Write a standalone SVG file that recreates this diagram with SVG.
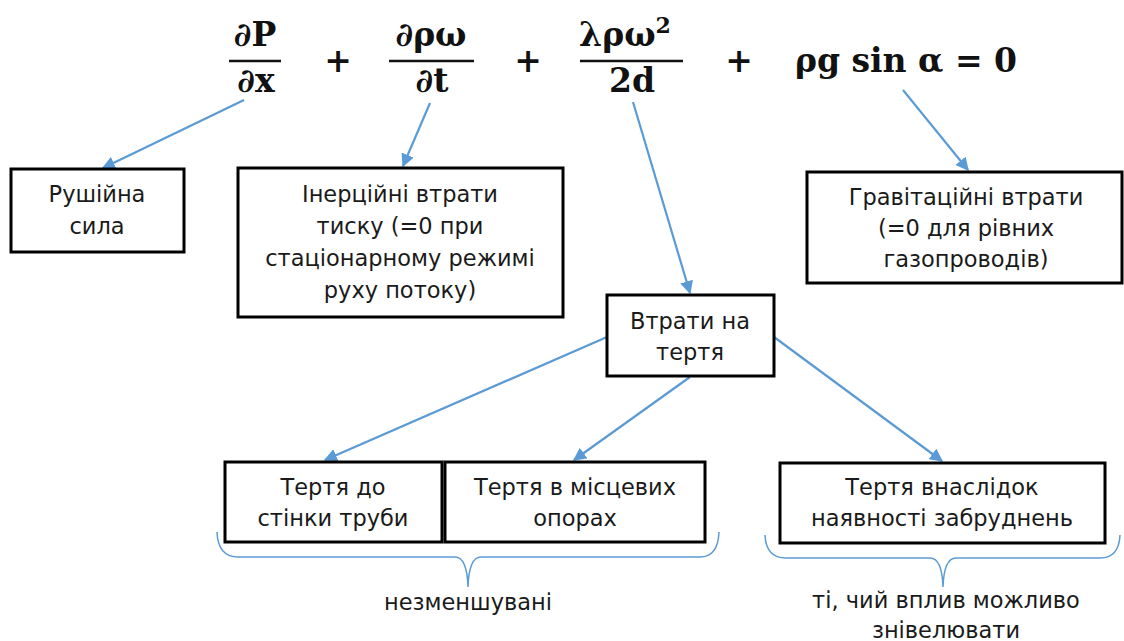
<svg xmlns="http://www.w3.org/2000/svg" width="1124" height="641" viewBox="0 0 1124 641">
<style>
.eq{font-family:"DejaVu Serif","Liberation Serif",serif;font-weight:bold;font-size:33px;fill:#111;text-anchor:middle}
.t{font-family:"DejaVu Sans","Liberation Sans",sans-serif;font-size:22.5px;fill:#1a1a1a;text-anchor:middle}
.box{fill:#fff;stroke:#000;stroke-width:3}
.c{stroke:#5B9BD5;stroke-width:2.2;fill:none}
.br{stroke:#5B9BD5;stroke-width:1.5;fill:none}
</style>
<defs>
<marker id="a" viewBox="0 0 10 10" refX="9" refY="5" markerWidth="6" markerHeight="6" orient="auto">
<path d="M0,0 L10,5 L0,10 z" fill="#5B9BD5"/>
</marker>
</defs>
<rect width="1124" height="641" fill="#fff"/>
<g id="equation">
<text class="eq" x="255" y="46">∂P</text>
<line x1="229" y1="61" x2="281" y2="61" stroke="#111" stroke-width="2.5"/>
<text class="eq" x="256" y="92">∂x</text>
<text class="eq" x="338" y="72">+</text>
<text class="eq" x="431" y="46">∂ρω</text>
<line x1="389" y1="61" x2="474" y2="61" stroke="#111" stroke-width="2.5"/>
<text class="eq" x="432" y="92">∂t</text>
<text class="eq" x="528" y="72">+</text>
<text class="eq" x="625" y="46">λρω<tspan font-size="22" dy="-13">2</tspan></text>
<line x1="580" y1="61" x2="683" y2="61" stroke="#111" stroke-width="2.5"/>
<text class="eq" x="632" y="92">2d</text>
<text class="eq" x="739" y="72">+</text>
<text class="eq" x="906" y="72">ρg sin α = 0</text>
</g>
<g id="connectors">
<line class="c" x1="244" y1="100" x2="103" y2="168" marker-end="url(#a)"/>
<line class="c" x1="430" y1="103" x2="403" y2="166" marker-end="url(#a)"/>
<line class="c" x1="633" y1="102" x2="690" y2="293" marker-end="url(#a)"/>
<line class="c" x1="903" y1="90" x2="968" y2="170" marker-end="url(#a)"/>
<line class="c" x1="607" y1="337" x2="325" y2="460" marker-end="url(#a)"/>
<line class="c" x1="690" y1="377" x2="574" y2="460" marker-end="url(#a)"/>
<line class="c" x1="774" y1="337" x2="942" y2="461" marker-end="url(#a)"/>
</g>
<g id="n1">
<rect class="box" x="11" y="169" width="173" height="83"/>
<text class="t" x="97" y="202">Рушійна</text>
<text class="t" x="97" y="234">сила</text>
</g>
<g id="n2">
<rect class="box" x="238" y="168" width="325" height="149"/>
<text class="t" x="400" y="202">Інерційні втрати</text>
<text class="t" x="400" y="234">тиску (=0 при</text>
<text class="t" x="400" y="266">стаціонарному режимі</text>
<text class="t" x="400" y="298">руху потоку)</text>
</g>
<g id="n3">
<rect class="box" x="807" y="172" width="315" height="111"/>
<text class="t" x="966" y="205">Гравітаційні втрати</text>
<text class="t" x="966" y="236">(=0 для рівних</text>
<text class="t" x="966" y="267">газопроводів)</text>
</g>
<g id="n4">
<rect class="box" x="607" y="295" width="167" height="81"/>
<text class="t" x="690" y="329">Втрати на</text>
<text class="t" x="690" y="360">тертя</text>
</g>
<g id="n5">
<rect class="box" x="225" y="462" width="217" height="80"/>
<text class="t" x="333" y="495">Тертя до</text>
<text class="t" x="333" y="526">стінки труби</text>
</g>
<g id="n6">
<rect class="box" x="445" y="462" width="260" height="80"/>
<text class="t" x="575" y="495">Тертя в місцевих</text>
<text class="t" x="575" y="526">опорах</text>
</g>
<g id="n7">
<rect class="box" x="780" y="463" width="325" height="80"/>
<text class="t" x="942" y="495">Тертя внаслідок</text>
<text class="t" x="942" y="526">наявності забруднень</text>
</g>
<g id="braces">
<path class="br" d="M217,532 Q218,557 238,557 L455,557 Q467,557 468,587 Q469,557 481,557 L700,557 Q718,557 719,532"/>
<path class="br" d="M765,535 Q766,558 786,558 L930,558 Q942,558 943,587 Q944,558 956,558 L1100,558 Q1119,558 1120,535"/>
<text class="t" x="468" y="610">незменшувані</text>
<text class="t" x="946" y="608">ті, чий вплив можливо</text>
<text class="t" x="946" y="638">знівелювати</text>
</g>
</svg>
